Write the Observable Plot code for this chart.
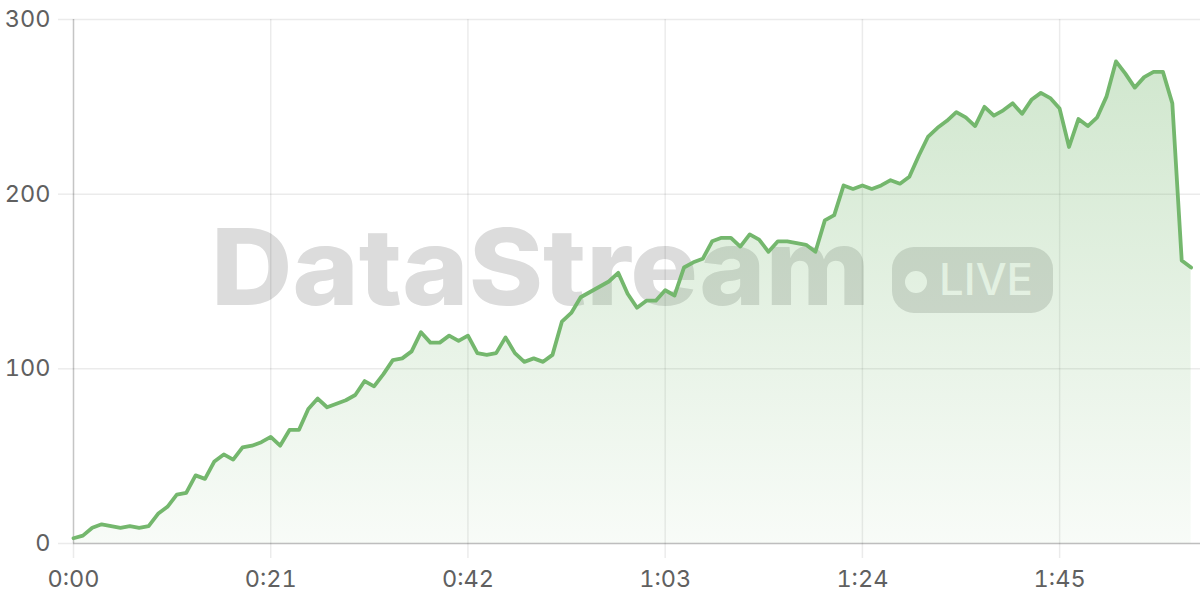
<!DOCTYPE html>
<html>
<head>
<meta charset="utf-8">
<script src="https://cdn.jsdelivr.net/npm/d3@7"></script>
<script src="https://cdn.jsdelivr.net/npm/@observablehq/plot@0.6"></script>
<style>
  html, body { margin: 0; padding: 0; background: #fff; }
  #wrap { position: relative; width: 1200px; height: 600px; overflow: hidden; }
  #wm { position: absolute; left: 0; top: 0; z-index: 0; }
  #chart { position: absolute; left: 0; top: 0; z-index: 1; }
  #chart svg { background: transparent !important; overflow: visible; }
</style>
</head>
<body>
<div id="wrap">
  <svg id="wm" width="1200" height="600">
    <text x="211" y="305" font-family="Inter, 'Liberation Sans', sans-serif" font-weight="800" font-size="106" fill="#dcdcdc" textLength="659" lengthAdjust="spacingAndGlyphs">DataStream</text>
    <rect x="892" y="247" width="161" height="66" rx="22" ry="22" fill="#dcdcdc"></rect>
    <circle cx="916" cy="282" r="11" fill="#ffffff"></circle>
    <text x="939" y="295" font-family="Inter, 'Liberation Sans', sans-serif" font-weight="500" font-size="44" fill="#ffffff" textLength="94" lengthAdjust="spacingAndGlyphs">LIVE</text>
  </svg>
  <div id="chart"></div>
</div>
<script>
// Elapsed seconds and values
const seconds = d3.range(0, 120);
const values = [
  3, 4.5, 9, 11, 10, 9, 10, 9, 10, 17,
  21, 28, 29, 39, 37, 47, 51, 48, 55, 56,
  58, 61, 56, 65, 65, 77, 83, 78, 80, 82,
  85, 93, 90, 97, 105, 106, 110, 121, 115, 115,
  119, 116, 119, 109, 108, 109, 118, 109, 104, 106,
  104, 108, 127, 132, 141, 144, 147, 150, 155, 143,
  135, 139, 139, 145, 142, 158, 161, 163, 173, 175,
  175, 170, 177, 174, 167, 173, 173, 172, 171, 167,
  185, 188, 205, 203, 205, 203, 205, 208, 206, 210,
  222, 233, 238, 242, 247, 244, 239, 250, 245, 248,
  252, 246, 254, 258, 255, 249, 227, 243, 239, 244,
  256, 276, 269, 261, 267, 270, 270, 252, 162, 158
];
const xTicks = [0, 21, 42, 63, 84, 105];
const yTicks = [0, 100, 200, 300];

const data = seconds.map((t, i) => ({t, v: values[i]}));
const fmt = d => `${Math.floor(d / 60)}:${String(d % 60).padStart(2, "0")}`;
const green = "#74b76d";
const labelColor = "#606060";

const chart = Plot.plot({
  width: 1200,
  height: 600,
  marginLeft: 73,
  marginRight: 0,
  marginTop: 19,
  marginBottom: 57,
  x: {domain: [0, 120]},
  y: {domain: [0, 300]},
  style: {fontFamily: "Inter, 'Liberation Sans', Arial, sans-serif", fontSize: "23.5px", color: labelColor, background: "transparent"},
  marks: [
    Plot.gridX(xTicks, {stroke: "#000", strokeOpacity: 0.08, strokeWidth: 1.5}),
    Plot.gridY(yTicks, {stroke: "#000", strokeOpacity: 0.08, strokeWidth: 1.5}),
    Plot.axisX(xTicks, {tickSize: 15, tickPadding: 12, tickFormat: fmt, stroke: "#000", strokeOpacity: 0.08, strokeWidth: 1.5, fill: labelColor, label: null}),
    Plot.axisY(yTicks, {tickSize: 15, tickPadding: 8, stroke: "#000", strokeOpacity: 0.08, strokeWidth: 1.5, fill: labelColor, label: null}),
    Plot.areaY(data, {x: "t", y: "v", fill: "url(#dsFill)"}),
    Plot.ruleX([0], {stroke: "#000", strokeOpacity: 0.16, strokeWidth: 1.5}),
    Plot.ruleY([0], {stroke: "#000", strokeOpacity: 0.19, strokeWidth: 1.5}),
    Plot.lineY(data, {x: "t", y: "v", stroke: green, strokeWidth: 3.8})
  ]
});

const defs = d3.select(chart).insert("defs", ":first-child");
const grad = defs.append("linearGradient")
  .attr("id", "dsFill")
  .attr("gradientUnits", "userSpaceOnUse")
  .attr("x1", 0).attr("x2", 0).attr("y1", 19).attr("y2", 543);
grad.append("stop").attr("offset", "0%").attr("stop-color", green).attr("stop-opacity", 0.36);
grad.append("stop").attr("offset", "100%").attr("stop-color", green).attr("stop-opacity", 0.05);

chart.style.background = "transparent";
document.getElementById("chart").appendChild(chart);
</script>
</body>
</html>
